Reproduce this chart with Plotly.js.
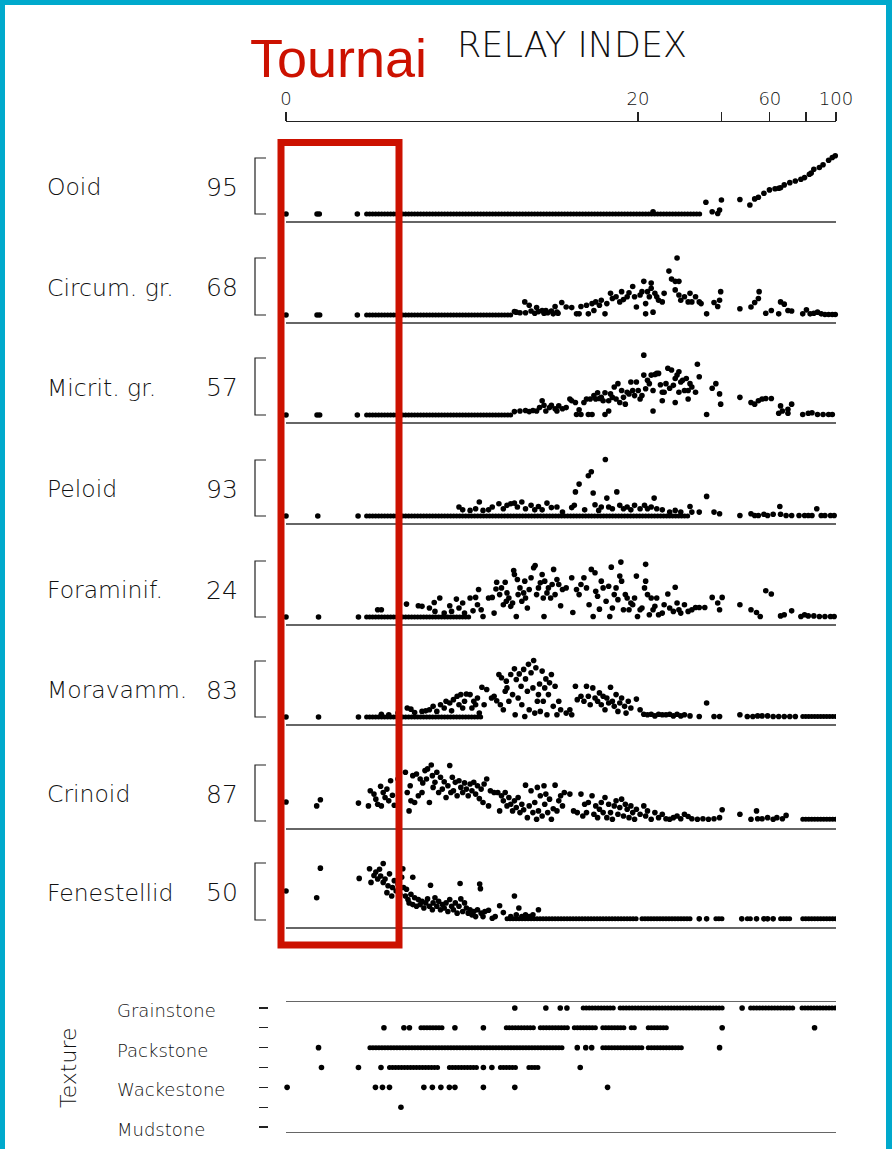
<!DOCTYPE html>
<html><head><meta charset="utf-8">
<script src="https://cdn.plot.ly/plotly-3.0.1.min.js"></script>
<style>
html,body{margin:0;padding:0;background:#fff;overflow:hidden}
#wrap{position:relative;width:892px;height:1149px}
#frame{position:absolute;left:0;top:0;width:892px;height:1149px;box-sizing:border-box;border-left:5px solid #00a9cc;border-right:6px solid #00a9cc;border-top:5px solid #00a9cc;pointer-events:none}
#chart path.js-line{stroke-linecap:round !important}
</style></head>
<body><div id="wrap"><div id="chart"></div><div id="frame"></div></div>
<script>
// ---------- DATA ----------
// x = position on the (non-linear) relay-index scale, 0..1488 ; y = % of the panel maximum
const relayTickVals = [0, 952, 1179, 1309, 1407, 1488];
const relayTickText = ["0", "20", "", "60", "", "100"];

const panelNames = ["Ooid", "Circum. gr.", "Micrit. gr.", "Peloid", "Foraminif.", "Moravamm.", "Crinoid", "Fenestellid"];
const panelMax = [95, 68, 57, 93, 24, 83, 87, 50];

const ooidPts = [[0,0],[84,0],[90,0],[193,0],[993,4],[1136,21],[1153,4],[1168,1],[1173,7],[1178,25],[1228,26],[1255,16],[1268,27],[1278,30],[1293,37],[1308,43],[1323,45],[1333,46],[1338,47],[1348,52],[1363,56],[1378,59],[1393,62],[1403,65],[1416,71],[1421,73],[1428,80],[1443,83],[1453,88],[1468,96],[1478,101],[1486,104]];
const ooidRuns = [[218,1123,0]];

const circumPts = [[0,0],[84,0],[91,0],[193,0],[618,6],[623,5],[633,4],[646,23],[648,4],[658,17],[663,7],[673,3],[678,13],[683,6],[693,8],[698,3],[703,8],[708,4],[718,7],[723,2],[728,15],[733,5],[736,3],[746,22],[758,14],[773,13],[786,2],[793,2],[798,15],[813,17],[818,2],[828,20],[833,8],[838,23],[848,17],[853,26],[863,2],[868,20],[878,38],[883,29],[893,32],[903,23],[908,41],[913,27],[923,32],[928,39],[938,50],[943,32],[948,14],[958,35],[963,41],[968,59],[973,20],[973,2],[978,41],[983,32],[988,56],[988,47],[993,5],[998,38],[1003,32],[1008,26],[1018,23],[1023,38],[1036,77],[1043,63],[1053,59],[1058,100],[1063,59],[1053,44],[1063,35],[1068,26],[1078,32],[1088,23],[1093,38],[1098,23],[1108,32],[1118,23],[1123,20],[1138,2],[1158,22],[1168,15],[1173,26],[1176,41],[1228,11],[1258,14],[1268,22],[1278,29],[1280,41],[1298,3],[1313,8],[1333,2],[1338,23],[1348,19],[1358,8],[1368,7],[1398,2],[1408,9],[1418,2],[1428,3],[1438,5],[1448,2],[1458,1],[1468,1],[1478,1],[1486,1]];
const circumRuns = [[218,613,0]];

const micritPts = [[0,0],[84,0],[91,0],[193,0],[618,6],[633,7],[648,8],[658,6],[668,8],[678,7],[686,13],[693,25],[698,17],[703,7],[713,13],[718,17],[728,11],[733,7],[738,16],[748,11],[758,13],[768,28],[773,25],[783,22],[786,1],[793,9],[798,1],[806,22],[813,28],[818,1],[823,28],[828,1],[833,34],[838,28],[843,39],[848,29],[853,31],[858,25],[863,1],[863,39],[873,7],[873,25],[878,37],[883,31],[888,49],[893,28],[898,55],[903,22],[908,43],[913,31],[918,19],[923,40],[928,37],[933,58],[938,43],[943,34],[948,58],[953,43],[958,28],[963,34],[968,105],[968,70],[973,46],[978,61],[983,55],[988,70],[993,7],[993,43],[998,71],[1003,73],[1008,73],[1013,53],[1018,25],[1018,40],[1023,40],[1028,55],[1033,82],[1038,47],[1043,79],[1048,52],[1053,22],[1053,64],[1058,70],[1063,76],[1063,40],[1068,58],[1073,61],[1078,43],[1083,64],[1088,28],[1088,43],[1093,55],[1098,49],[1108,40],[1113,89],[1118,67],[1138,1],[1153,47],[1163,55],[1173,37],[1176,19],[1228,31],[1258,22],[1268,19],[1278,25],[1288,28],[1298,29],[1313,29],[1333,3],[1338,16],[1343,7],[1358,3],[1368,19],[1358,10],[1398,1],[1413,3],[1423,4],[1438,1],[1453,1],[1468,1],[1478,1]];
const micritRuns = [[218,608,0]];

const peloidPts = [[0,0],[86,0],[195,0],[468,16],[478,11],[498,10],[513,13],[523,25],[533,10],[548,11],[558,16],[576,22],[588,13],[598,19],[608,22],[618,23],[626,16],[638,25],[648,13],[663,19],[673,11],[683,17],[693,11],[706,23],[718,15],[733,16],[748,7],[773,15],[780,19],[783,43],[793,57],[808,11],[818,72],[826,79],[831,41],[836,20],[846,10],[853,16],[864,101],[868,32],[873,16],[883,13],[895,43],[903,19],[913,13],[923,16],[933,11],[943,19],[958,13],[970,19],[978,13],[988,16],[996,32],[1003,13],[1018,11],[1038,7],[1053,10],[1068,7],[1093,17],[1098,7],[1118,7],[1138,35],[1158,7],[1173,4],[1228,1],[1258,4],[1268,1],[1278,1],[1293,3],[1303,1],[1318,3],[1336,17],[1338,3],[1353,1],[1368,1],[1388,1],[1403,1],[1413,1],[1423,1],[1436,13],[1448,1],[1458,1],[1473,1],[1483,1]];
const peloidRuns = [[218,1088,0]];

const foramPts = [[0,0],[88,0],[196,0],[248,13],[258,13],[326,23],[358,20],[368,19],[388,16],[401,26],[403,10],[416,34],[428,7],[443,20],[448,10],[461,32],[468,16],[478,25],[483,7],[498,34],[506,11],[513,35],[518,22],[521,49],[528,13],[533,1],[548,34],[558,35],[563,7],[568,50],[570,62],[578,40],[583,52],[588,22],[593,62],[596,28],[598,43],[603,34],[608,19],[613,25],[616,83],[618,76],[623,1],[626,67],[628,40],[633,52],[638,28],[643,43],[646,64],[648,34],[653,16],[658,49],[663,70],[670,88],[674,92],[678,40],[683,52],[688,61],[693,76],[696,34],[698,1],[700,64],[706,43],[710,52],[716,34],[720,58],[724,85],[728,40],[733,67],[738,58],[743,20],[748,49],[758,52],[776,8],[773,70],[786,49],[793,40],[798,58],[806,70],[813,52],[820,22],[826,85],[831,1],[836,79],[838,46],[843,37],[848,14],[853,64],[858,52],[866,28],[873,55],[876,1],[880,89],[883,16],[888,40],[893,52],[898,31],[903,73],[906,98],[908,64],[913,13],[918,40],[923,34],[928,13],[933,25],[938,22],[943,34],[948,73],[951,1],[958,13],[963,16],[970,52],[973,94],[973,64],[978,40],[983,4],[988,34],[993,13],[998,19],[1003,34],[1008,4],[1018,7],[1023,22],[1033,41],[1038,16],[1048,10],[1053,53],[1058,25],[1063,13],[1068,7],[1078,22],[1088,10],[1098,13],[1108,17],[1118,17],[1133,17],[1153,35],[1168,25],[1173,13],[1180,35],[1228,22],[1258,13],[1273,8],[1283,1],[1298,47],[1313,41],[1338,2],[1348,4],[1368,11],[1393,1],[1403,4],[1413,2],[1428,2],[1443,1],[1458,1],[1473,1],[1483,1]];
const foramRuns = [[218,498,0]];

const moravPts = [[0,0],[88,0],[196,0],[258,5],[278,4],[303,7],[328,16],[338,14],[348,8],[368,10],[378,11],[388,13],[398,19],[408,10],[418,22],[428,16],[433,28],[443,25],[448,11],[453,31],[463,37],[468,22],[473,40],[478,16],[483,28],[488,41],[498,40],[503,16],[508,28],[513,22],[518,34],[523,7],[530,53],[536,22],[543,49],[556,34],[563,37],[570,29],[576,76],[580,22],[583,70],[588,13],[593,46],[596,64],[598,52],[603,28],[608,76],[613,40],[618,86],[620,4],[623,67],[628,34],[631,77],[636,55],[638,22],[643,85],[646,1],[648,68],[653,46],[656,94],[658,13],[663,79],[668,52],[670,101],[673,7],[676,88],[680,28],[683,40],[686,59],[688,10],[693,82],[696,28],[700,52],[703,68],[706,4],[710,40],[713,61],[718,76],[723,19],[728,55],[733,4],[738,28],[743,13],[758,7],[768,13],[773,4],[783,55],[788,31],[798,37],[806,28],[813,55],[818,37],[823,22],[830,52],[836,34],[843,28],[848,43],[853,22],[858,37],[863,13],[868,34],[873,25],[878,53],[883,28],[888,19],[893,40],[898,10],[903,25],[908,34],[916,19],[920,7],[926,28],[933,16],[948,32],[958,13],[968,5],[978,4],[988,5],[998,2],[1008,5],[1018,4],[1028,4],[1038,5],[1048,2],[1058,5],[1068,2],[1078,4],[1093,2],[1118,1],[1138,25],[1158,1],[1173,1],[1228,4],[1248,1],[1263,1],[1276,2],[1288,2],[1303,2],[1318,1],[1333,1],[1348,1],[1363,1],[1378,1]];
const moravRuns = [[218,528,0],[1398,1488,1]];

const crinoidPts = [[0,34],[83,27],[93,38],[196,32],[223,27],[228,54],[238,48],[243,39],[248,30],[256,62],[258,27],[263,51],[268,42],[273,57],[278,36],[283,72],[288,46],[293,28],[303,75],[323,87],[328,51],[333,18],[336,63],[338,36],[343,81],[348,33],[353,84],[358,45],[363,75],[368,51],[370,68],[376,90],[380,75],[383,93],[388,33],[393,100],[396,81],[398,60],[403,69],[408,87],[413,51],[418,78],[423,57],[428,70],[433,42],[438,63],[443,99],[446,51],[450,78],[453,54],[458,69],[463,45],[468,72],[473,60],[478,51],[483,68],[488,57],[493,45],[498,66],[503,54],[508,69],[513,48],[518,63],[523,40],[528,57],[533,33],[536,66],[543,75],[548,27],[553,54],[563,51],[573,51],[578,18],[583,45],[588,36],[593,51],[598,27],[603,42],[608,30],[613,18],[618,36],[623,24],[628,42],[633,15],[638,30],[643,20],[648,64],[653,6],[658,27],[663,54],[668,15],[673,33],[678,3],[680,60],[683,18],[688,45],[693,9],[698,63],[700,30],[703,48],[708,15],[713,39],[718,3],[723,22],[728,64],[733,18],[738,36],[743,45],[748,27],[753,51],[768,48],[778,18],[788,15],[798,48],[803,9],[808,30],[813,15],[818,33],[828,45],[833,12],[838,27],[843,6],[848,21],[853,33],[858,15],[863,42],[868,6],[873,30],[878,15],[883,3],[888,27],[893,36],[898,12],[903,24],[908,39],[913,9],[918,30],[923,21],[928,6],[933,27],[938,15],[943,3],[948,21],[958,12],[968,27],[973,9],[978,18],[988,3],[998,15],[1008,6],[1018,12],[1028,4],[1038,3],[1048,6],[1058,9],[1068,4],[1078,12],[1088,8],[1098,4],[1113,3],[1128,4],[1143,3],[1158,4],[1173,6],[1180,20],[1228,12],[1258,3],[1273,18],[1276,4],[1288,4],[1303,6],[1318,3],[1328,6],[1343,4],[1353,10]];
const crinoidRuns = [[1398,1488,3]];

const fenestPts = [[0,51],[83,39],[93,91],[198,73],[226,90],[230,66],[238,78],[243,84],[248,72],[253,89],[256,77],[263,99],[263,66],[268,72],[273,48],[276,60],[280,81],[286,42],[288,57],[293,69],[298,51],[303,63],[308,45],[313,75],[316,90],[318,57],[323,42],[326,54],[330,36],[333,30],[338,45],[343,75],[343,27],[348,39],[353,24],[358,36],[363,27],[368,33],[373,21],[378,30],[383,37],[388,24],[391,61],[396,18],[398,30],[403,39],[408,24],[413,33],[418,18],[423,27],[428,21],[433,30],[438,15],[443,36],[448,24],[453,18],[458,30],[463,12],[468,24],[471,64],[473,37],[478,15],[483,30],[488,21],[493,12],[498,18],[503,9],[508,15],[513,6],[518,18],[524,63],[526,55],[528,12],[533,6],[538,15],[548,17],[558,3],[566,6],[578,25],[588,13],[608,6],[618,42],[623,9],[630,21],[638,6],[648,9],[658,6],[668,9],[683,18],[1118,2],[1138,2],[1233,2],[1273,2],[1293,2],[1303,2],[1318,2]];
const fenestRuns = [[598,953,2],[963,1098,2],[1163,1183,2],[1248,1263,2],[1338,1368,2],[1398,1488,2]];

const panelPts = [ooidPts, circumPts, micritPts, peloidPts, foramPts, moravPts, crinoidPts, fenestPts];
const panelRuns = [ooidRuns, circumRuns, micritRuns, peloidRuns, foramRuns, moravRuns, crinoidRuns, fenestRuns];

// Texture: levels 0 Mudstone .. 6 Grainstone
const textureLabels = ["Mudstone", "Wackestone", "Packstone", "Grainstone"];
const textureLabelLevels = [0, 2, 4, 6];
const texturePts = [[619,6],[703,6],[742,6],[760,6],[1234,6],
  [265,5],[319,5],[334,5],[457,5],[534,5],[1180,5],[1430,5],
  [88,4],[788,4],[811,4],[827,4],[1173,4],
  [96,3],[196,3],[257,3],[534,3],[557,3],[796,3],
  [3,2],[242,2],[261,2],[280,2],[373,2],[396,2],[419,2],[442,2],[457,2],[534,2],[619,2],[870,2],
  [311,1]];
const textureRuns = [[804,888,6],[904,1180,6],[1257,1373,6],[1396,1488,6],
  [365,427,5],[596,673,5],[688,765,5],[780,842,5],[857,919,5],[934,950,5],[980,1034,5],
  [227,750,4],[857,965,4],[980,1073,4],
  [280,411,3],[442,519,3],[580,627,3],[657,688,3]];

// ---------- LAYOUT HELPERS ----------
const W = 892, H = 1149;
const px = v => v / W;
const py = v => 1 - v / H;
const FONT = "'DejaVu Sans', sans-serif";
const INK = '#000000';
const TXT = '#111111';
const panelTopPx = [158, 258, 358, 460, 561, 661, 765, 863];
const panelZeroPx = [214, 315, 415, 516, 617, 717, 821, 920];
const RUN_LINE = {width: 5, color: INK, dash: '0.1px,2.9px'};

function runsXY(runs) {
  const x = [], y = [];
  runs.forEach(r => { x.push(r[0], r[1], null); y.push(r[2], r[2], null); });
  return {x, y};
}

const traces = [];
const shapes = [];
const annotations = [];
const layout = {
  width: W, height: H,
  margin: {l: 0, r: 0, t: 0, b: 0},
  paper_bgcolor: '#ffffff', plot_bgcolor: 'rgba(0,0,0,0)',
  showlegend: false,
  xaxis: {
    domain: [px(286), px(836)], range: [0, 1488], anchor: 'free', position: py(121), side: 'top',
    showline: true, linecolor: '#222', linewidth: 1.3,
    ticks: 'outside', ticklen: 9, tickwidth: 1.3, tickcolor: '#222',
    tickvals: relayTickVals, ticktext: relayTickText,
    tickfont: {family: FONT, size: 18, color: TXT, weight: 200},
    showgrid: false, zeroline: false, fixedrange: true, automargin: false
  },
  yaxis: {
    domain: [py(1133), py(1001)], range: [-0.3, 6.35], anchor: 'free', position: px(268),
    showline: false, ticks: 'outside', ticklen: 9, tickwidth: 1.3, tickcolor: '#222',
    tickvals: [0, 1, 2, 3, 4, 5, 6], showticklabels: false,
    showgrid: false, zeroline: false, fixedrange: true, automargin: false
  }
};

panelNames.forEach((name, i) => {
  const top = panelTopPx[i], zero = panelZeroPx[i];
  const s = (zero - top) / 100; // px per unit
  const yid = 'y' + (i + 2);
  layout['yaxis' + (i + 2)] = {
    domain: [py(zero + 15 * s), py(top - 10 * s)], range: [-15, 110], anchor: 'free', position: px(255),
    visible: false, fixedrange: true, automargin: false
  };
  const pts = panelPts[i];
  traces.push({
    x: pts.map(p => p[0]), y: pts.map(p => p[1]), xaxis: 'x', yaxis: yid,
    type: 'scatter', mode: 'markers', cliponaxis: false, hoverinfo: 'skip',
    marker: {size: 5.6, color: INK, line: {width: 0}}
  });
  const r = runsXY(panelRuns[i]);
  traces.push({
    x: r.x, y: r.y, xaxis: 'x', yaxis: yid, type: 'scatter', mode: 'lines',
    connectgaps: false, cliponaxis: false, hoverinfo: 'skip', line: RUN_LINE
  });
  // bracket
  shapes.push({type: 'path', xref: 'paper', yref: 'paper',
    path: `M ${px(266)},${py(top)} L ${px(255)},${py(top)} L ${px(255)},${py(zero)} L ${px(266)},${py(zero)}`,
    line: {color: '#222', width: 1.2}});
  // baseline
  shapes.push({type: 'line', xref: 'x', yref: 'paper', x0: 0, x1: 1488, y0: py(zero + 8), y1: py(zero + 8),
    line: {color: '#333', width: 1.6}});
  const cy = py((top + zero) / 2 + 1);
  annotations.push({xref: 'paper', yref: 'paper', x: px(45), y: cy, xanchor: 'left', yanchor: 'middle',
    text: name, showarrow: false, font: {family: FONT, size: 23.5, color: TXT, weight: 200}});
  annotations.push({xref: 'paper', yref: 'paper', x: px(240), y: cy, xanchor: 'right', yanchor: 'middle',
    text: String(panelMax[i]), showarrow: false, font: {family: FONT, size: 25, color: TXT, weight: 200}});
});

// texture panel
traces.push({
  x: texturePts.map(p => p[0]), y: texturePts.map(p => p[1]), xaxis: 'x', yaxis: 'y',
  type: 'scatter', mode: 'markers', cliponaxis: false, hoverinfo: 'skip',
  marker: {size: 5.6, color: INK, line: {width: 0}}
});
const tr = runsXY(textureRuns);
traces.push({
  x: tr.x, y: tr.y, xaxis: 'x', yaxis: 'y', type: 'scatter', mode: 'lines',
  connectgaps: false, cliponaxis: false, hoverinfo: 'skip', line: RUN_LINE
});
shapes.push({type: 'line', xref: 'x', yref: 'y', x0: 0, x1: 1488, y0: 6.35, y1: 6.35, line: {color: '#333', width: 1.6}});
shapes.push({type: 'line', xref: 'x', yref: 'y', x0: 0, x1: 1488, y0: -0.3, y1: -0.3, line: {color: '#333', width: 1.6}});
textureLabels.forEach((t, k) => {
  annotations.push({xref: 'paper', yref: 'y', x: px(115), y: textureLabelLevels[k] - 0.12, xanchor: 'left', yanchor: 'middle',
    text: t, showarrow: false, font: {family: FONT, size: 18, color: TXT, weight: 200}});
});
annotations.push({xref: 'paper', yref: 'paper', x: px(68), y: py(1068), xanchor: 'center', yanchor: 'middle',
  text: 'Texture', textangle: -90, showarrow: false, font: {family: FONT, size: 22, color: TXT, weight: 200}});

// titles
annotations.push({xref: 'paper', yref: 'paper', x: px(455), y: py(45), xanchor: 'left', yanchor: 'middle',
  text: 'RELAY INDEX', showarrow: false, font: {family: FONT, size: 35, color: TXT, weight: 200}});
annotations.push({xref: 'paper', yref: 'paper', x: px(248), y: py(58), xanchor: 'left', yanchor: 'middle',
  text: 'Tournai', showarrow: false, font: {family: "'Liberation Sans', Arial, sans-serif", size: 54, color: '#cc1100'}});

// red highlight box
shapes.push({type: 'rect', xref: 'paper', yref: 'paper', x0: px(281), x1: px(399), y0: py(945), y1: py(142.5),
  line: {color: '#cc1100', width: 7}, fillcolor: 'rgba(0,0,0,0)', layer: 'above'});

layout.shapes = shapes;
layout.annotations = annotations;

Plotly.newPlot('chart', traces, layout, {staticPlot: true, displayModeBar: false});
</script>
</body></html>
